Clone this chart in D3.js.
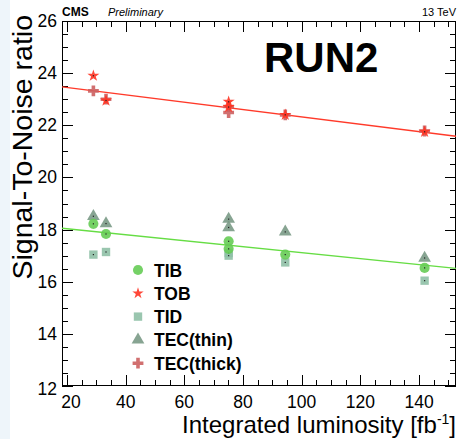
<!DOCTYPE html>
<html><head><meta charset="utf-8">
<script src="https://cdn.jsdelivr.net/npm/d3@7"></script>
<style>body{margin:0;background:#fff}svg{display:block}</style>
</head><body>
<script>
// ---- data ----
const lumi      = [29.0, 33.3, 75.1, 75.1, 94.4, 141.9];
const TIB       = [18.22, 17.83, 17.55, 17.26, 17.04, 16.53];
const TOB       = [23.90, 22.95, 22.90, 22.70, 22.40, 21.75];
const TID       = [17.04, 17.14, 17.10, 17.00, 16.74, 16.04];
const TECthin   = [18.51, 18.23, 18.40, 18.08, 17.91, 16.91];
const TECthick  = [23.32, 23.00, 22.72, 22.49, 22.40, 21.78];
const fitX      = [18.3, 152.6];
const fitRed    = [23.47, 21.58];
const fitGreen  = [18.05, 16.51];
const xTicks    = [20, 40, 60, 80, 100, 120, 140];
const yTicks    = [12, 14, 16, 18, 20, 22, 24, 26];
const legendNames = ["TIB", "TOB", "TID", "TEC(thin)", "TEC(thick)"];

const W = 462, H = 439;
const m = {l: 62, r: 456, t: 21, b: 386};
const svg = d3.select("body").append("svg").attr("width", W).attr("height", H)
  .style("font-family", "'Liberation Sans', Arial, sans-serif");
svg.append("rect").attr("width", W).attr("height", H).attr("fill", "#fff");
svg.append("rect").attr("width", 10).attr("height", H).attr("fill", "#eef5fa");

const x = d3.scaleLinear().domain([18.3, 152.6]).range([m.l, m.r]);
const y = d3.scaleLinear().domain([12, 26]).range([m.b, m.t]);

// ticks
const g = svg.append("g").attr("stroke", "#000").attr("stroke-width", 1);
const xMinor = d3.range(20, 153, 5);
xMinor.forEach(v => {
  const major = v % 20 === 0;
  const L = major ? 11 : 6;
  const px = Math.round(x(v)) + 0.5;
  g.append("line").attr("x1", px).attr("x2", px).attr("y1", m.b).attr("y2", m.b - L);
  g.append("line").attr("x1", px).attr("x2", px).attr("y1", m.t).attr("y2", m.t + L);
});
const yMinor = d3.range(12, 26.01, 0.5);
yMinor.forEach(v => {
  const major = Math.abs(v % 2) < 1e-6;
  const L = major ? 11 : 6;
  const py = Math.round(y(v)) + 0.5;
  g.append("line").attr("y1", py).attr("y2", py).attr("x1", m.l).attr("x2", m.l + L);
  g.append("line").attr("y1", py).attr("y2", py).attr("x1", m.r).attr("x2", m.r - L);
});
svg.append("rect").attr("x", m.l + 0.5).attr("y", m.t + 0.5)
  .attr("width", m.r - m.l - 1).attr("height", m.b - m.t - 1)
  .attr("fill", "none").attr("stroke", "#000").attr("stroke-width", 1);

// tick labels
svg.append("g").selectAll("text").data(xTicks).join("text")
  .attr("x", d => x(d) + (d === 20 ? 4 : 0)).attr("y", 408)
  .attr("text-anchor", "middle").attr("font-size", 17.5).text(d => d);
svg.append("g").selectAll("text").data(yTicks).join("text")
  .attr("x", 57).attr("y", d => y(d) + 6 + (d === 12 ? 3 : 0))
  .attr("text-anchor", "end").attr("font-size", 17.5).text(d => d);

// axis titles
const xt = svg.append("text").attr("x", 456).attr("y", 433).attr("text-anchor", "end")
  .attr("font-size", 24);
xt.append("tspan").text("Integrated luminosity [fb");
xt.append("tspan").attr("font-size", 14).attr("dy", -9).text("-1");
xt.append("tspan").attr("dy", 9).text("]");
svg.append("text").attr("transform", "translate(32,15) rotate(-90)")
  .attr("text-anchor", "end").attr("font-size", 28.5).text("Signal-To-Noise ratio");

// header texts
svg.append("text").attr("x", 62).attr("y", 16).attr("font-size", 12).attr("font-weight", "bold").text("CMS");
svg.append("text").attr("x", 108).attr("y", 16).attr("font-size", 11).attr("font-style", "italic").text("Preliminary");
svg.append("text").attr("x", 456).attr("y", 16).attr("font-size", 11).attr("text-anchor", "end").text("13 TeV");
svg.append("text").attr("x", 264).attr("y", 72).attr("font-size", 42).attr("font-weight", "bold").text("RUN2");

// fit lines
const line = d3.line().x(d => x(d[0])).y(d => y(d[1]));
svg.append("path").attr("d", line(fitX.map((v, i) => [v, fitRed[i]])))
  .attr("stroke", "#ff3a2a").attr("stroke-width", 1.3).attr("fill", "none");
svg.append("path").attr("d", line(fitX.map((v, i) => [v, fitGreen[i]])))
  .attr("stroke", "#66dd44").attr("stroke-width", 1.3).attr("fill", "none");

// series styles
const series = [
  {name: "TEC(thin)", vals: TECthin, sym: d3.symbolTriangle, size: 70, color: "#7a9a86", dot: true},
  {name: "TID", vals: TID, sym: d3.symbolSquare, size: 70, color: "#8fc0a6", dot: true},
  {name: "TIB", vals: TIB, sym: d3.symbolCircle, size: 80, color: "#66cc55", dot: true},
  {name: "TEC(thick)", vals: TECthick, sym: d3.symbolCross, size: 65, color: "#cc6060", dot: false},
  {name: "TOB", vals: TOB, sym: d3.symbolStar, size: 45, color: "#ff3322", dot: true}
];
series.forEach(s => {
  const gs = svg.append("g");
  gs.selectAll("path").data(s.vals).join("path")
    .attr("d", d3.symbol().type(s.sym).size(s.size))
    .attr("transform", (d, i) => `translate(${x(lumi[i])},${y(d)})`)
    .attr("fill", s.color).attr("opacity", 0.9);
  if (s.dot) {
    gs.selectAll("rect").data(s.vals).join("rect")
      .attr("x", (d, i) => x(lumi[i]) - 0.6).attr("y", d => y(d) - 0.6)
      .attr("width", 1.2).attr("height", 1.2).attr("fill", "#222");
  }
});

// legend
const byName = Object.fromEntries(series.map(s => [s.name, s]));
const lg = svg.append("g");
legendNames.forEach((n, i) => {
  const s = byName[n];
  const yy = 270 + i * 23.3;
  lg.append("path").attr("d", d3.symbol().type(s.sym).size(n === "TOB" ? 40 : s.size))
    .attr("transform", `translate(138,${yy})`).attr("fill", s.color).attr("opacity", 0.9);
  lg.append("text").attr("x", 154).attr("y", yy + 6.5).attr("font-size", 17.5)
    .attr("font-weight", "bold").text(n);
});
</script>
</body></html>
